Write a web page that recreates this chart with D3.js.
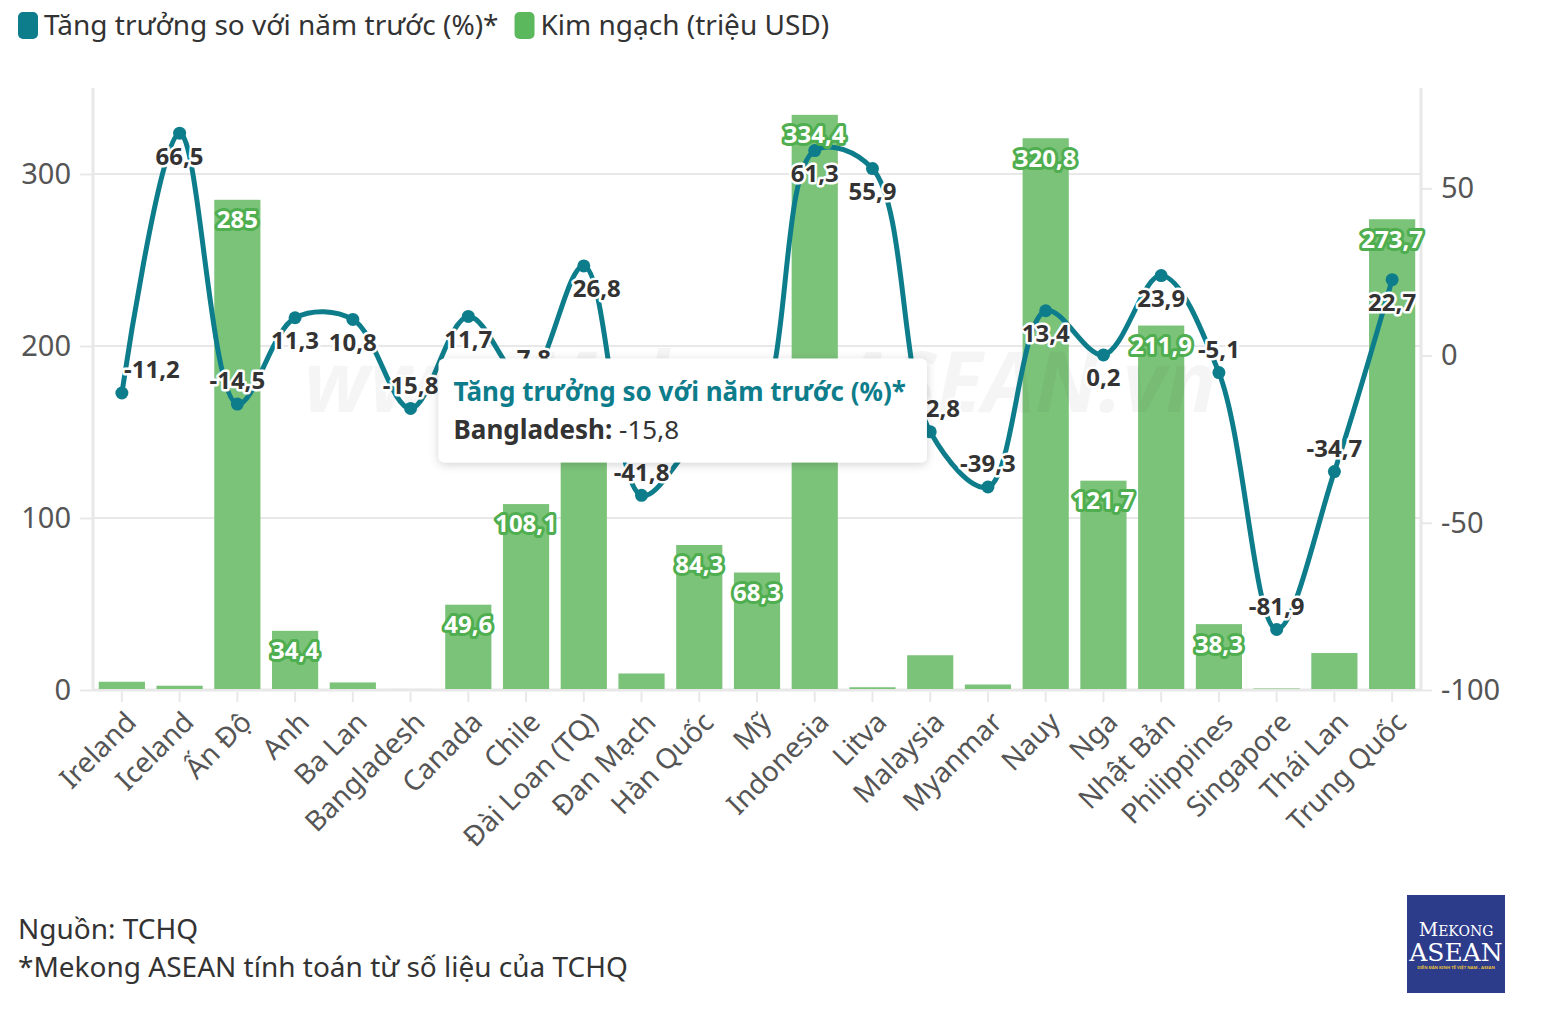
<!DOCTYPE html>
<html>
<head>
<meta charset="utf-8">
<script src="https://cdn.jsdelivr.net/npm/d3@7"></script>
<style>
  body { margin: 0; background: #fff; }
  text { font-family: 'Noto Sans', sans-serif; }
</style>
</head>
<body>
<div id="chart"></div>
<script>
// Categories and series
const countries = ['Ireland', 'Iceland', 'Ấn Độ', 'Anh', 'Ba Lan', 'Bangladesh', 'Canada', 'Chile',
  'Đài Loan (TQ)', 'Đan Mạch', 'Hàn Quốc', 'Mỹ', 'Indonesia', 'Litva', 'Malaysia', 'Myanmar',
  'Nauy', 'Nga', 'Nhật Bản', 'Philippines', 'Singapore', 'Thái Lan', 'Trung Quốc']
const turnover = [4.8, 2.5, 285, 34.4, 4.4, 0.6, 49.6, 108.1, 165, 9.6, 84.3, 68.3, 334.4,
  1.6, 20.2, 3.2, 320.8, 121.7, 211.9, 38.3, 0.9, 21.5, 273.7]
const growth = [-11.2, 66.5, -14.5, 11.3, 10.8, -15.8, 11.7, -7.8, 26.8, -41.8, -25, -18,
  61.3, 55.9, -22.8, -39.3, 13.4, 0.2, 23.9, -5.1, -81.9, -34.7, 22.7]
const leftTicks = [0, 100, 200, 300]
const rightTicks = [-100, -50, 0, 50]

const seriesNames = ['Tăng trưởng so với năm trước (%)*', 'Kim ngạch (triệu USD)']
const tooltipCountry = 'Bangladesh'
const sourceLines = ['Nguồn: TCHQ', '*Mekong ASEAN tính toán từ số liệu của TCHQ']

const TEAL = '#0e7d8b'
const GREEN = '#5cb85c'
const BAR = '#7cc37a'
const GRID = '#e8e8e8'

const W = 1546, H = 1018
const plot = { left: 93, right: 1421, top: 88, bottom: 690 }

const fmt = v => String(v).replace('.', ',')

const svg = d3.select('#chart').append('svg')
  .attr('width', W).attr('height', H)
  .style('display', 'block')

const defs = svg.append('defs')
const shadow = defs.append('filter').attr('id', 'shadow')
  .attr('x', '-10%').attr('y', '-20%').attr('width', '120%').attr('height', '150%')
shadow.append('feDropShadow').attr('dx', 0).attr('dy', 2).attr('stdDeviation', 5)
  .attr('flood-color', '#000').attr('flood-opacity', 0.18)

const x = d3.scaleBand().domain(countries)
  .range([plot.left, plot.right]).paddingInner(0.2).paddingOuter(0.1)
const yL = d3.scaleLinear().domain([0, 350]).range([plot.bottom, plot.top])
const yR = d3.scaleLinear().domain([-100, 80]).range([plot.bottom, plot.top])
const cx = c => x(c) + x.bandwidth() / 2

// Legend
const legend = svg.append('g').attr('transform', 'translate(18,12)')
let lx = 0
seriesNames.forEach((name, i) => {
  const g = legend.append('g').attr('transform', `translate(${lx},0)`)
  g.append('rect').attr('width', 20).attr('height', 27).attr('rx', 5)
    .attr('fill', i === 0 ? TEAL : GREEN)
  const t = g.append('text').attr('x', 26).attr('y', 23)
    .attr('font-size', 28).attr('fill', '#333').text(name)
  lx += 26 + t.node().getComputedTextLength() + 16
})

// Gridlines
svg.append('g').selectAll('line').data(leftTicks).join('line')
  .attr('x1', plot.left).attr('x2', plot.right)
  .attr('y1', d => yL(d)).attr('y2', d => yL(d))
  .attr('stroke', GRID).attr('stroke-width', 2)

// Axes
const styleAxis = g => {
  g.select('.domain').remove()
  g.selectAll('.tick line').attr('stroke', GRID).attr('stroke-width', 2)
  g.selectAll('.tick text').attr('fill', '#555').attr('font-size', 29)
    .style('font-family', "'Noto Sans', sans-serif")
}
svg.append('g').attr('transform', `translate(${plot.left},0)`)
  .call(d3.axisLeft(yL).tickValues(leftTicks).tickFormat(d => String(d)).tickSize(13).tickPadding(9))
  .call(styleAxis)
svg.append('g').attr('transform', `translate(${plot.right},0)`)
  .call(d3.axisRight(yR).tickValues(rightTicks).tickFormat(d => String(d)).tickSize(11).tickPadding(9))
  .call(styleAxis)
const xAxis = svg.append('g').attr('transform', `translate(0,${plot.bottom})`)
  .call(d3.axisBottom(x).tickSize(12).tickSizeOuter(0))
  .call(styleAxis)
xAxis.selectAll('.tick line').attr('y1', 2)
xAxis.selectAll('.tick text')
  .attr('font-size', 28)
  .attr('text-anchor', 'end').attr('x', 0).attr('y', 0).attr('dy', '0.35em')
  .attr('transform', 'translate(9,27) rotate(-45)')

// Frame lines
svg.append('g').selectAll('line').data([plot.left, plot.right]).join('line')
  .attr('x1', d => d).attr('x2', d => d).attr('y1', plot.top).attr('y2', plot.bottom + 1)
  .attr('stroke', GRID).attr('stroke-width', 3)
svg.append('line').attr('x1', plot.left).attr('x2', plot.right)
  .attr('y1', plot.bottom).attr('y2', plot.bottom)
  .attr('stroke', GRID).attr('stroke-width', 3)

// Bars
svg.append('g').selectAll('rect').data(countries).join('rect')
  .attr('x', c => x(c)).attr('width', x.bandwidth())
  .attr('y', (c, i) => yL(turnover[i]))
  .attr('height', (c, i) => plot.bottom - yL(turnover[i]) - 1)
  .attr('fill', BAR)

// Watermark
svg.append('text').attr('x', 760).attr('y', 412).attr('text-anchor', 'middle')
  .attr('font-size', 84).attr('font-weight', 700).attr('font-style', 'italic')
  .attr('fill', '#000').attr('opacity', 0.035).text('www.MekongASEAN.vn')

// Growth line
const linePts = countries.map((c, i) => [cx(c), yR(growth[i])])
svg.append('path').datum(linePts)
  .attr('d', d3.line().curve(d3.curveCatmullRom.alpha(0.5)))
  .attr('fill', 'none').attr('stroke', TEAL).attr('stroke-width', 5)
svg.append('g').selectAll('circle').data(linePts).join('circle')
  .attr('cx', d => d[0]).attr('cy', d => d[1]).attr('r', 6.5).attr('fill', TEAL)

// Bar labels (only on bars tall enough)
svg.append('g').selectAll('text')
  .data(countries.map((c, i) => ({ c, v: turnover[i] })).filter(d => d.v > 30))
  .join('text')
  .attr('x', d => cx(d.c)).attr('y', d => yL(d.v) + 20).attr('dy', '0.35em')
  .attr('text-anchor', 'middle').attr('font-size', 24).attr('font-weight', 700)
  .attr('fill', '#fff').attr('stroke', '#4fae4f').attr('stroke-width', 6)
  .attr('stroke-linejoin', 'round').attr('paint-order', 'stroke')
  .text(d => fmt(d.v))

// Growth labels
const labelBelow = new Set(['Iceland', 'Anh', 'Ba Lan', 'Canada', 'Đài Loan (TQ)', 'Indonesia',
  'Litva', 'Nauy', 'Nga', 'Nhật Bản', 'Trung Quốc'])
const labelDx = { 'Ireland': 30, 'Chile': 4, 'Đài Loan (TQ)': 13, 'Malaysia': 2 }
svg.append('g').selectAll('text')
  .data(countries.map((c, i) => ({ c, v: growth[i] })))
  .join('text')
  .attr('x', d => cx(d.c) + (labelDx[d.c] || 0))
  .attr('y', d => yR(d.v) + (labelBelow.has(d.c) ? 23 : -23)).attr('dy', '0.35em')
  .attr('text-anchor', 'middle').attr('font-size', 24).attr('font-weight', 700)
  .attr('fill', '#333').attr('stroke', '#fff').attr('stroke-width', 5)
  .attr('stroke-linejoin', 'round').attr('paint-order', 'stroke')
  .text(d => fmt(d.v))

// Tooltip (hover state on Bangladesh)
const ti = countries.indexOf(tooltipCountry)
const tip = svg.append('g')
  .attr('transform', `translate(${cx(tooltipCountry) + 28},${yR(growth[ti]) - 50})`)
const tipTitle = tip.append('text').attr('x', 15).attr('y', 43)
  .attr('font-size', 26).attr('font-weight', 700).attr('fill', TEAL).text(seriesNames[0])
const tipBody = tip.append('text').attr('x', 15).attr('y', 81)
  .attr('font-size', 26).attr('fill', '#333')
tipBody.append('tspan').attr('font-weight', 700).text(tooltipCountry + ': ')
tipBody.append('tspan').text(fmt(growth[ti]))
const tipW = tipTitle.node().getComputedTextLength() + 36
tip.insert('rect', 'text').attr('width', tipW).attr('height', 104).attr('rx', 6)
  .attr('fill', '#fff').attr('filter', 'url(#shadow)')

// Source
svg.append('g').selectAll('text').data(sourceLines).join('text')
  .attr('x', 18).attr('y', (d, i) => 939 + i * 38)
  .attr('font-size', 28).attr('fill', '#333').text(d => d)

// Logo
const logo = svg.append('g').attr('transform', 'translate(1407,895)')
logo.append('rect').attr('width', 98).attr('height', 98).attr('fill', '#2c3b8a')
const mk = logo.append('text').attr('x', 49).attr('y', 41).attr('text-anchor', 'middle')
  .attr('fill', '#fff').style('font-family', "'DejaVu Serif', serif")
mk.append('tspan').attr('font-size', 19).text('M')
mk.append('tspan').attr('font-size', 14).text('EKONG')
logo.append('text').attr('x', 49).attr('y', 66).attr('text-anchor', 'middle')
  .attr('fill', '#fff').attr('font-size', 25).style('font-family', "'DejaVu Serif', serif")
  .text('ASEAN')
logo.append('text').attr('x', 49).attr('y', 74).attr('text-anchor', 'middle')
  .attr('fill', '#e8c33a').attr('font-size', 4.2).attr('font-weight', 700)
  .text('DIỄN ĐÀN KINH TẾ VIỆT NAM - ASEAN')
</script>
</body>
</html>
